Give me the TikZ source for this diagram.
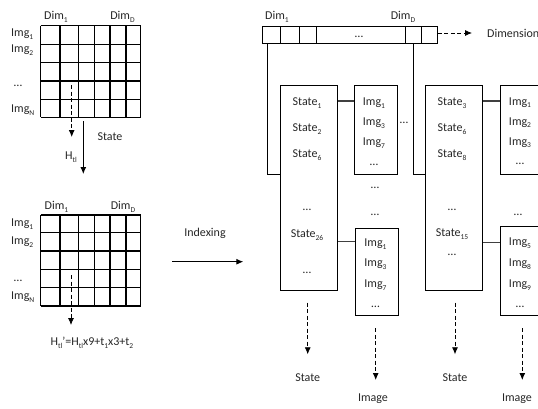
\documentclass[tikz,border=0pt]{standalone}
\usepackage{fontspec}
\setmainfont{Carlito}
\usetikzlibrary{arrows.meta}
\newcommand\sbs[1]{\raisebox{-0.45ex}{\fontsize{7.5}{8}\selectfont #1}}
\begin{document}
\begin{tikzpicture}[x=1pt,y=-1pt,
 txt/.style={inner sep=0pt, font=\fontsize{12}{14}\selectfont, text=black!85},
 box/.style={draw, line width=0.9pt, inner sep=0pt},
 grd/.style={line width=1.1pt},
 darr/.style={line width=0.8pt, dash pattern=on 4pt off 2.5pt, -{Latex[length=7pt,width=6pt]}},
 sarr/.style={line width=0.9pt, -{Latex[length=7pt,width=6pt]}},
 conn/.style={line width=1.3pt, draw=black!75}]
\useasboundingbox (0,0) rectangle (538,408);
\clip (0,0) rectangle (538,408);

% ---------- top-left grid ----------
\foreach \x in {40.7,60,78.3,94.3,110,126,140.7} \draw[grd] (\x,25.7) -- (\x,117.3);
\foreach \y in {25.7,44.3,62.7,81,99.3,117.3} \draw[grd] (40.7,\y) -- (140.7,\y);
\node[txt] (ad1) at (56,17) {Dim\sbs{1}};
\node[txt] (adD) at (122.5,17) {Dim\sbs{D}};
\node[txt,anchor=west] (ai1) at (11,34) {Img\sbs{1}};
\node[txt,anchor=west] (ai2) at (11,50) {Img\sbs{2}};
\node[txt] (aid) at (18,86) {…};
\node[txt,anchor=west] (aiN) at (11,110) {Img\sbs{N}};
\coordinate (a1s) at (71.7,85);
\coordinate (a1e) at (71.7,137);
\draw[darr] (a1s) -- (a1e);
\coordinate (a2s) at (83.3,121);
\coordinate (a2e) at (83.3,174);
\draw[sarr] (a2s) -- (a2e);
\node[txt] (ast) at (110,137) {State};
\node[txt] (aH) at (71,157) {H\sbs{tl}};

% ---------- bottom-left grid ----------
\foreach \x in {40.7,60,78.3,94.3,110,126,140.7} \draw[grd] (\x,215) -- (\x,306);
\foreach \y in {215,232.3,251,269.3,287.3,306} \draw[grd] (40.7,\y) -- (140.7,\y);
\node[txt] (bd1) at (56.5,207) {Dim\sbs{1}};
\node[txt] (bdD) at (123,207) {Dim\sbs{D}};
\node[txt,anchor=west] (bi1) at (11,224) {Img\sbs{1}};
\node[txt,anchor=west] (bi2) at (11,242) {Img\sbs{2}};
\node[txt] (bid) at (18,281) {…};
\node[txt,anchor=west] (biN) at (11,297) {Img\sbs{N}};
\coordinate (b1s) at (71,275);
\coordinate (b1e) at (71,325);
\draw[darr] (b1s) -- (b1e);
\node[txt] (bf) at (92,343) {H\sbs{tl}'=H\sbs{tl}x9+t\sbs{1}x3+t\sbs{2}};

% ---------- indexing arrow ----------
\coordinate (is) at (172.3,261.7);
\coordinate (ie) at (243.3,261.7);
\draw[sarr] (is) -- (ie);
\node[txt] (ix) at (205,233) {Indexing};

% ---------- top bar ----------
\node[box,minimum width=174.6pt,minimum height=17.3pt] (bar) at (350,34.7) {};
\foreach \x in {280,299.3,316,405.3,421.7} \draw[line width=0.9pt] (\x,26) -- (\x,43.3);
\node[txt] (bardots) at (359,37) {…};
\node[txt] (rd1) at (277,17) {Dim\sbs{1}};
\node[txt] (rdD) at (403,17) {Dim\sbs{D}};
\node[txt,anchor=west] (dimtxt) at (487,33) {Dimension};
\coordinate (dimarr) at (472,33);
\draw[darr] (bar.east |- dimarr) -- (dimarr);

% ---------- state boxes ----------
\node[box,minimum width=57pt,minimum height=205pt] (sb1) at (309.2,187.5) {};
\node[box,minimum width=57.7pt,minimum height=205pt] (sb2) at (453.8,187.5) {};
\coordinate (j1t) at (267.3,43.3);
\coordinate (j1) at (267.3,174);
\coordinate (j2t) at (413,43.3);
\coordinate (j2) at (413,174);
\draw[line width=0.9pt] (j1t) -- (j1) -- (j1 -| sb1.west);
\draw[line width=0.9pt] (j2t) -- (j2) -- (j2 -| sb2.west);

\node[txt] (s11) at (307,103.3) {State\sbs{1}};
\node[txt] (s12) at (307,129) {State\sbs{2}};
\node[txt] (s16) at (307,155) {State\sbs{6}};
\node[txt] (s1d) at (307,210) {…};
\node[txt] (s126) at (307,235) {State\sbs{26}};
\node[txt] (s1e) at (307,273) {…};

\node[txt] (s23) at (452,103.3) {State\sbs{3}};
\node[txt] (s26) at (452,129) {State\sbs{6}};
\node[txt] (s28) at (452,155) {State\sbs{8}};
\node[txt] (s2d) at (452,210) {…};
\node[txt] (s215) at (452,234) {State\sbs{15}};
\node[txt] (s2e) at (452,255) {…};

% ---------- image boxes ----------
\node[box,minimum width=43pt,minimum height=89pt] (ib1) at (375.8,129.5) {};
\node[box,minimum width=42.6pt,minimum height=86.7pt] (ib2) at (377,271.7) {};
\node[box,minimum width=43pt,minimum height=89pt] (ib3) at (521.5,129.5) {};
\node[box,minimum width=43pt,minimum height=88.3pt] (ib4) at (521.5,270.8) {};

\node[txt] (i11) at (374,103) {Img\sbs{1}};
\node[txt] (i13) at (374,123.3) {Img\sbs{3}};
\node[txt] (i17) at (374,143.3) {Img\sbs{7}};
\node[txt] (i1d) at (374,165) {…};

\node[txt] (i21) at (375.5,244) {Img\sbs{1}};
\node[txt] (i23) at (375.5,264) {Img\sbs{3}};
\node[txt] (i27) at (375.5,285) {Img\sbs{7}};
\node[txt] (i2d) at (375.5,306.7) {…};

\node[txt] (i31) at (520,102.7) {Img\sbs{1}};
\node[txt] (i32) at (520,122.7) {Img\sbs{2}};
\node[txt] (i33) at (520,142.7) {Img\sbs{3}};
\node[txt] (i3d) at (520,164) {…};

\node[txt] (i45) at (520,243) {Img\sbs{5}};
\node[txt] (i48) at (520,264) {Img\sbs{8}};
\node[txt] (i49) at (520,285) {Img\sbs{9}};
\node[txt] (i4d) at (520,306.7) {…};

\node[txt] (md1) at (375,188) {…};
\node[txt] (md2) at (375,215) {…};
\node[txt] (md3) at (518,215) {…};
\node[txt] (md4) at (404,122.7) {…};

% ---------- connectors state -> image ----------
\coordinate (c1) at (0,101);
\coordinate (c2) at (0,241.7);
\coordinate (c3) at (0,242.7);
\draw[conn] (sb1.east |- c1) -- (ib1.west |- c1);
\draw[conn] (sb1.east |- c2) -- (ib2.west |- c2);
\draw[conn] (sb2.east |- c1) -- (ib3.west |- c1);
\draw[conn] (sb2.east |- c3) -- (ib4.west |- c3);

% ---------- bottom arrows ----------
\node[txt] (ls1) at (307.7,377.7) {State};
\node[txt] (li1) at (373,398.3) {Image};
\node[txt] (ls2) at (455,377.7) {State};
\node[txt] (li2) at (517,398.3) {Image};
\coordinate (d1s) at (307.7,302.7);
\coordinate (d1e) at (307.7,354.3);
\coordinate (d2s) at (375.7,328);
\coordinate (d2e) at (375.7,380);
\coordinate (d3s) at (455,302.7);
\coordinate (d3e) at (455,354.3);
\coordinate (d4s) at (522.3,328);
\coordinate (d4e) at (522.3,380);
\draw[darr] (d1s) -- (d1e);
\draw[darr] (d2s) -- (d2e);
\draw[darr] (d3s) -- (d3e);
\draw[darr] (d4s) -- (d4e);
\end{tikzpicture}
\end{document}
